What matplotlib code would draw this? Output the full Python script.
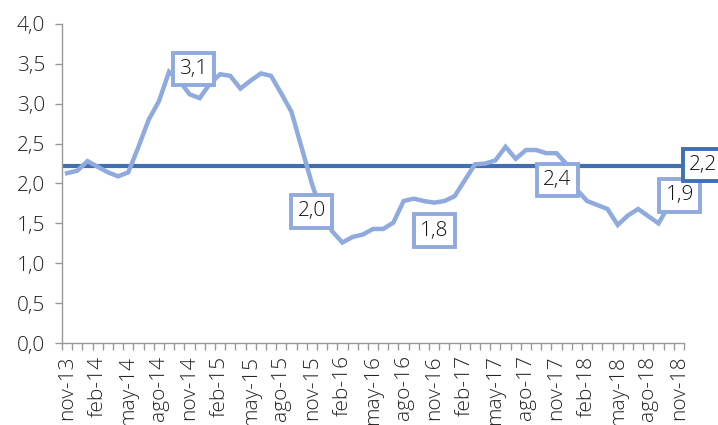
import matplotlib
matplotlib.use("Agg")
import matplotlib.pyplot as plt
from matplotlib.ticker import FixedLocator, FuncFormatter

plt.rcParams['font.family'] = ['Open Sans', 'DejaVu Sans']
plt.rcParams['font.weight'] = 'light'

months = ["nov", "dic", "ene", "feb", "mar", "abr", "may", "jun", "jul", "ago", "sep", "oct"]
categories = []
y, m = 13, 0
for i in range(61):
    categories.append(f"{months[m]}-{y}")
    m += 1
    if m == 2:
        y += 1
    if m == 12:
        m = 0

inflation = [2.13, 2.16, 2.28, 2.21, 2.14, 2.09, 2.14, 2.46, 2.80, 3.03,
             3.40, 3.29, 3.12, 3.07, 3.25, 3.37, 3.35, 3.19, 3.29, 3.38,
             3.35, 3.13, 2.90, 2.45, 2.00, 1.62, 1.40, 1.26, 1.33, 1.36,
             1.43, 1.43, 1.51, 1.78, 1.81, 1.78, 1.76, 1.78, 1.84, 2.04,
             2.24, 2.25, 2.29, 2.46, 2.31, 2.42, 2.42, 2.38, 2.38, 2.24,
             1.92, 1.78, 1.73, 1.68, 1.48, 1.60, 1.68, 1.59, 1.50, 1.72,
             1.90]
target = 2.22
target_label = "2,2"
label_idx = [12, 24, 36, 48, 60]

light = "#8FAADC"
dark = "#4170B0"
fs = 15

fig = plt.figure(figsize=(7.18, 4.25), dpi=100)
ax = fig.add_axes([62/718, 1-343/425, (684-62)/718, (343-24)/425])

x = list(range(len(inflation)))
ax.plot(x, inflation, color=light, lw=3.2, solid_joinstyle='miter', zorder=3)
ax.plot([-0.2, 64], [target, target], color=dark, lw=3.0, clip_on=False, zorder=2)

ax.set_xlim(-0.5, len(inflation) - 0.5)
ax.set_ylim(0, 4)

ax.yaxis.set_major_locator(FixedLocator([i * 0.5 for i in range(9)]))
ax.yaxis.set_major_formatter(FuncFormatter(lambda v, p: f"{v:.1f}".replace(".", ",")))
ax.set_xticks([i - 0.5 for i in range(len(inflation) + 1)])
ax.set_xticklabels([])
ax.set_xticks(list(range(0, len(inflation), 3)), minor=True)
ax.set_xticklabels([categories[i] for i in range(0, len(inflation), 3)], minor=True, rotation=90)
ax.tick_params(axis='x', which='minor', length=0, pad=9, labelsize=fs, colors='#222222')
ax.tick_params(axis='x', which='major', length=5, color='#999999', width=1)
ax.tick_params(axis='y', length=5, color='#999999', width=1, labelsize=fs, labelcolor='#222222', pad=7)

for s in ['top', 'right']:
    ax.spines[s].set_visible(False)
for s in ['left', 'bottom']:
    ax.spines[s].set_color('#999999')
    ax.spines[s].set_linewidth(1)

offsets = {12: (4, 25), 24: (0, -28), 36: (0, -28), 48: (1, -27), 60: (1, -4)}
for i in label_idx:
    txt = f"{inflation[i]:.1f}".replace(".", ",")
    ax.annotate(txt, (i, inflation[i]), xytext=offsets[i], textcoords='offset pixels',
                ha='center', va='center', fontsize=fs, color='#111111', zorder=5,
                bbox=dict(boxstyle='square,pad=0.3', fc='white', ec=light, lw=2.8))

ax.annotate(target_label, (60, target), xytext=(24, 1), textcoords='offset pixels',
            ha='center', va='center', fontsize=fs, color='#111111', zorder=6,
            annotation_clip=False,
            bbox=dict(boxstyle='square,pad=0.3', fc='white', ec=dark, lw=2.8))

fig.savefig("out.png", dpi=100)
